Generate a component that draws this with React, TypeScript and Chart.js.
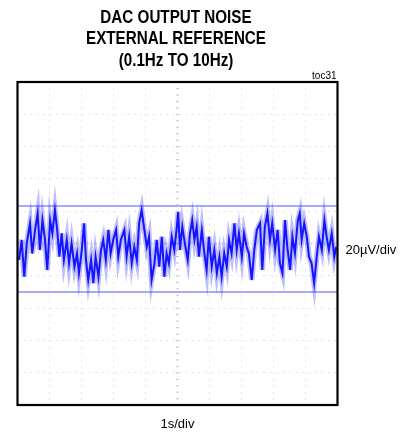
import React, { useEffect, useRef } from "react";
import { Chart, registerables } from "chart.js";

Chart.register(...registerables);

// Title lines and annotations
const titleLines = ["DAC OUTPUT NOISE", "EXTERNAL REFERENCE", "(0.1Hz TO 10Hz)"];
const tagLabel = "toc31";
const yScaleLabel = "20µV/div";
const xScaleLabel = "1s/div";

// Time axis (s): 10 divisions of 1 s
const timeMin = 0;
const timeMax = 10;
// Voltage axis (µV): 10 divisions of 20 µV
const voltMin = -100;
const voltMax = 100;

// Cursor lines (µV)
const cursorHigh = 23.2;
const cursorLow = -30;

// Noise trace: time (s) and output noise (µV)
const noiseTime = [
  0.05, 0.13, 0.21, 0.29, 0.39, 0.46, 0.55, 0.63, 0.70, 0.78, 0.86, 0.93, 1.02, 1.09, 1.17, 1.24, 1.31,
  1.38, 1.45, 1.54, 1.61, 1.69, 1.78, 1.86, 1.92, 2.01, 2.08, 2.14, 2.21, 2.30, 2.37, 2.44, 2.53,
  2.61, 2.68, 2.76, 2.84, 2.91, 2.99, 3.08, 3.15, 3.23, 3.34, 3.41, 3.49, 3.57, 3.65, 3.73, 3.80,
  3.88, 3.95, 4.04, 4.11, 4.19, 4.28, 4.35, 4.43, 4.51, 4.59, 4.66, 4.73, 4.82, 4.90, 4.98,
  5.02, 5.08, 5.15, 5.23, 5.32, 5.39, 5.46, 5.53, 5.60, 5.67, 5.76, 5.84, 5.91, 5.98, 6.07, 6.15,
  6.23, 6.31, 6.38, 6.46, 6.54, 6.61, 6.69, 6.78, 6.85, 6.92, 7.01, 7.08, 7.16, 7.23, 7.32, 7.40, 7.48,
  7.58, 7.65, 7.73, 7.81, 7.89, 7.96, 8.05, 8.13, 8.20, 8.28, 8.36, 8.43, 8.52, 8.59, 8.67, 8.76,
  8.82, 8.88, 8.96, 9.04, 9.11, 9.19, 9.27, 9.35, 9.42, 9.51, 9.59, 9.66, 9.73, 9.82, 9.90, 9.96,
];
const noiseMicroVolts = [
  -10.2, 2.2, -20.6, 0.1, 12.5, -6.1, 8.4, 18.7, -4.0, 14.5, 2.2, -16.4, 14.5, 6.3, 20.7, 8.4, -8.2,
  6.3, -10.2, 2.2, -12.3, 0.1, -14.4, -6.1, -18.4, -4.0, 12.5, -10.2, -22.6, -10.2, -24.6, -8.2, -20.6,
  -4.0, 2.2, -10.2, 8.4, -6.1, 2.2, 8.4, -8.2, 2.2, 8.4, -8.2, 4.2, -12.3, -2.0, -10.2, 12.5,
  20.7, 10.4, -2.0, 4.2, -22.6, -12.3, 2.2, -14.4, 4.2, -20.6, -6.1, -12.3, 4.2, -4.0, 10.4,
  19.5, -4.0, 10.4, 0.1, -10.2, 6.3, 14.5, 2.2, 10.4, -8.2, 8.4, -6.1, -16.4, 4.2, -14.4, -4.0,
  -18.4, -8.2, -20.6, -6.1, -14.4, 2.2, -6.1, 12.5, -4.0, 6.3, -8.2, 6.3, -2.0, -6.1, -22.6, -4.0, 8.4,
  12.5, -16.4, 10.4, 18.7, 2.2, 12.5, -4.0, 8.4, -12.3, -18.4, 14.5, -2.0, -16.4, 4.2, -6.1, 14.5,
  18.7, 2.2, 12.5, 4.2, -8.2, -12.3, -24.6, -8.2, 4.2, -4.0, 14.5, 4.2, -4.0, 6.3, -8.2, -2.0,
];

const SANS = "'Liberation Sans', Arial, sans-serif";

const scopePlugin = {
  id: "scopeDecor",
  beforeDatasetsDraw(chart: any) {
    const { ctx, chartArea, scales } = chart;
    const x = scales.x;
    const y = scales.y;
    ctx.save();
    ctx.fillStyle = "rgba(150,150,150,0.45)";
    const cx = x.getPixelForValue((timeMin + timeMax) / 2);
    const cy = y.getPixelForValue((voltMin + voltMax) / 2);
    const ySpan = chartArea.bottom - chartArea.top;
    const xSpan = chartArea.right - chartArea.left;
    for (let i = 0; i <= 50; i++) {
      const py = chartArea.top + (ySpan * i) / 50;
      ctx.fillRect(cx - 1.5, py - 0.5, 3, 1);
      const px = chartArea.left + (xSpan * i) / 50;
      ctx.fillRect(px - 0.5, cy - 1.5, 1, 3);
    }
    ctx.restore();
  },
  afterDraw(chart: any) {
    const { ctx, chartArea } = chart;
    ctx.save();
    ctx.strokeStyle = "#000";
    ctx.lineWidth = 2.2;
    ctx.strokeRect(chartArea.left, chartArea.top, chartArea.right - chartArea.left, chartArea.bottom - chartArea.top);
    ctx.fillStyle = "#000";
    // title (condensed bold)
    ctx.font = `bold 18px ${SANS}`;
    ctx.textAlign = "center";
    ctx.textBaseline = "middle";
    const tx = (chartArea.left + chartArea.right) / 2 - 1.5;
    titleLines.forEach((line, i) => {
      ctx.save();
      ctx.translate(tx, 18 + i * 21.5);
      ctx.scale(0.845, 1);
      ctx.fillText(line, 0, 0);
      ctx.restore();
    });
    ctx.font = `10px ${SANS}`;
    ctx.textAlign = "right";
    ctx.textBaseline = "alphabetic";
    ctx.fillText(tagLabel, chartArea.right - 1, chartArea.top - 3);
    ctx.font = `13px ${SANS}`;
    ctx.textAlign = "left";
    ctx.textBaseline = "middle";
    ctx.fillText(yScaleLabel, chartArea.right + 8, (chartArea.top + chartArea.bottom) / 2 + 7);
    ctx.textAlign = "center";
    ctx.fillText(xScaleLabel, (chartArea.left + chartArea.right) / 2, chartArea.bottom + 19);
    ctx.restore();
  },
};

export default function App() {
  const ref = useRef<HTMLCanvasElement | null>(null);
  useEffect(() => {
    document.body.style.margin = "0";
    const canvas = ref.current;
    if (!canvas) return;
    const trace = noiseTime.map((t, i) => ({ x: t, y: noiseMicroVolts[i] }));
    const chart = new Chart(canvas, {
      type: "line",
      data: {
        datasets: [
          {
            data: [
              { x: timeMin, y: cursorHigh },
              { x: timeMax, y: cursorHigh },
            ],
            borderColor: "#a8a8ff",
            borderWidth: 2,
            pointRadius: 0,
            order: 3,
          },
          {
            data: [
              { x: timeMin, y: cursorLow },
              { x: timeMax, y: cursorLow },
            ],
            borderColor: "#a8a8ff",
            borderWidth: 2,
            pointRadius: 0,
            order: 3,
          },
          {
            data: trace,
            borderColor: "rgba(70,70,255,0.35)",
            borderWidth: 5.5,
            pointRadius: 0,
            tension: 0,
            order: 2,
          },
          {
            data: trace,
            borderColor: "#1414ff",
            borderWidth: 2,
            pointRadius: 0,
            tension: 0,
            order: 1,
          },
        ],
      },
      options: {
        responsive: false,
        animation: false,
        events: [],
        layout: { padding: { left: 17.5, right: 79.5, top: 82, bottom: 29 } },
        plugins: {
          legend: { display: false },
          tooltip: { enabled: false },
          title: { display: false },
        },
        scales: {
          x: {
            type: "linear",
            min: timeMin,
            max: timeMax,
            ticks: { display: false, stepSize: 1 },
            grid: { color: "rgba(160,160,160,0.45)", lineWidth: 1, drawTicks: false },
            border: { display: false, dash: [1.2, 5.26] },
          },
          y: {
            type: "linear",
            min: voltMin,
            max: voltMax,
            ticks: { display: false, stepSize: 20 },
            grid: { color: "rgba(160,160,160,0.45)", lineWidth: 1, drawTicks: false },
            border: { display: false, dash: [1.2, 5.26] },
          },
        },
      },
      plugins: [scopePlugin],
    });
    return () => chart.destroy();
  }, []);
  return <canvas ref={ref} width={417} height={434} style={{ display: "block" }} />;
}
